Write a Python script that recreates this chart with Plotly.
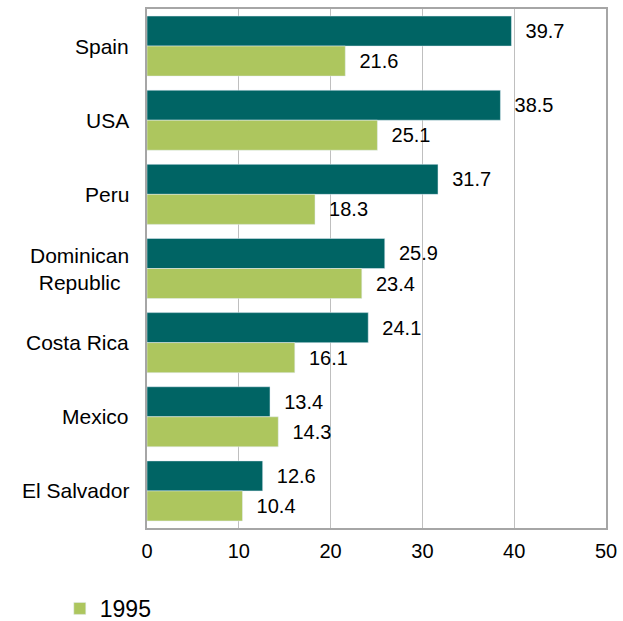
import plotly.graph_objects as go

countries = ["Spain", "USA", "Peru", "Dominican<br>Republic", "Costa Rica", "Mexico", "El Salvador"]
recent = [39.7, 38.5, 31.7, 25.9, 24.1, 13.4, 12.6]
y1995 = [21.6, 25.1, 18.3, 23.4, 16.1, 14.3, 10.4]
x_ticks = [0, 10, 20, 30, 40, 50]

DARK = "#006464"
LIGHT = "#adc65e"
FONT = "Liberation Sans, Arial, sans-serif"

fig = go.Figure()
fig.add_trace(go.Bar(
    y=countries, x=recent, orientation="h", name="Recent",
    marker=dict(color=DARK), showlegend=False,
    textposition="outside", cliponaxis=False,
))
fig.add_trace(go.Bar(
    y=countries, x=y1995, orientation="h", name="1995",
    marker=dict(color=LIGHT),
    textposition="outside", cliponaxis=False,
))
fig.update_traces(
    texttemplate="  %{x:.1f}",
    textfont=dict(family=FONT, size=20, color="#000000"),
)

# Category labels drawn as annotations so two-line labels stay centred
for c in countries:
    fig.add_annotation(
        x=0, xref="paper", y=c, yref="y", text=c, showarrow=False,
        xanchor="right", xshift=-16, align="center",
        font=dict(family=FONT, size=21, color="#000000"),
    )

fig.update_layout(
    width=623, height=621,
    margin=dict(l=147, r=17, t=9, b=93, autoexpand=False),
    paper_bgcolor="white", plot_bgcolor="white",
    barmode="group", bargap=0.19, bargroupgap=0,
    font=dict(family=FONT, size=20, color="#000000"),
    xaxis=dict(
        range=[0, 50], tickvals=x_ticks, ticks="", showgrid=True,
        gridcolor="#bfbfbf", gridwidth=1.3, zeroline=False,
        showline=True, linecolor="#a6a6a6", linewidth=2, mirror=True,
        ticklabelstandoff=4,
        tickfont=dict(family=FONT, size=20, color="#000000"),
    ),
    yaxis=dict(
        autorange="reversed", showticklabels=False, ticks="",
        showgrid=False, showline=True, linecolor="#a6a6a6",
        linewidth=2, mirror=True,
    ),
    legend=dict(
        orientation="h", x=-0.19, xanchor="left", y=-0.155, yanchor="middle",
        font=dict(family=FONT, size=23, color="#000000"),
        bgcolor="rgba(0,0,0,0)",
    ),
)

fig.write_html("out.html")
